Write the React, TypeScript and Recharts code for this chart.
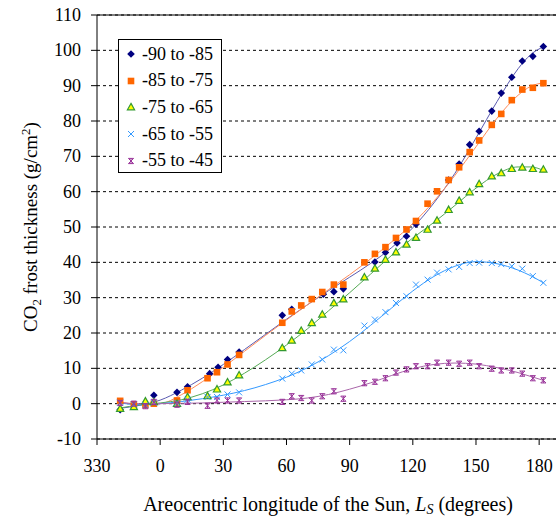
import React from "react";
import { ComposedChart, Line, Scatter, XAxis, YAxis, CartesianGrid, ReferenceLine } from "recharts";

// Measured points per latitude band (Ls in degrees, 330 shown as -30)
const lsNavy = [-19, -3, 8, 13, 23.5, 27.5, 32, 37.5, 58, 62.5, 77.5, 82.5, 87, 102, 107, 112.5, 117, 121.5, 137, 142, 147, 151.5, 157.5, 162, 167, 172, 177, 182];
const valNavy = [-1.7, 2.4, 3.2, 4.8, 8.5, 10.3, 12.5, 14.6, 25, 26.7, 31, 31.7, 32.5, 40.1, 42.8, 45.5, 47.4, 50.8, 63.3, 67.8, 73.3, 77.1, 82.8, 87.9, 92.4, 97, 98.3, 101.1];

const lsBands = [-19, -12.5, -7, -3, 8, 13, 22.5, 27, 32, 37.5, 58, 62.5, 67, 72, 77, 82.5, 87, 97, 102, 107, 112, 117, 121.5, 127, 131.5, 137, 142, 147, 151.5, 157.5, 162, 167, 172, 177, 182];
const valOrange = [0.8, -0.2, -0.4, 0, 0.9, 3.8, 7.2, 8.9, 11.1, 13.8, 22.9, 26.1, 27.8, 29.6, 31.6, 33.7, 33.7, 40, 42.4, 44.3, 46.9, 49.3, 51.7, 56.6, 60.1, 63.3, 66.9, 71.2, 74.5, 78.9, 82, 85.9, 88.9, 89.4, 90.7];
const valGreen = [-1.4, -0.9, 0.7, 0.5, 0, 1.9, 2.2, 4.1, 6.1, 8.1, 15.8, 17.9, 20.7, 22.9, 25.3, 28.5, 29.6, 35.8, 38.3, 40.8, 42.9, 45.1, 47, 49.3, 51.9, 54.9, 57.5, 59.9, 62.2, 64.4, 65.3, 66.5, 66.9, 66.5, 66.3];
const valBlue = [0.3, -0.2, -0.4, 0.3, 0.3, 1.1, 1.9, 1.9, 2.6, 3.2, 7.1, 8.5, 9.4, 11.1, 12.5, 15.3, 15.1, 22.1, 23.8, 25.9, 28.5, 30.4, 33.7, 35.1, 37.1, 38, 38.7, 39.8, 39.9, 39.8, 39.5, 38.9, 38.2, 36.1, 34.2];
const valPurple = [0.2, 0, -0.7, 0.5, -0.3, 0.5, -0.6, 0.9, 0.9, 0.9, 0.5, 2.1, 1.6, 0.9, 2.1, 3.5, 1.4, 5.8, 6.2, 7.2, 8.8, 9.7, 10.6, 10.6, 11.6, 11.6, 11.3, 11.6, 10.6, 9.9, 9.4, 9.4, 8.5, 7.2, 6.6];

// Trendlines
const lsTrend = [-19, -10, 0, 10, 20, 30, 40, 50, 60, 70, 80, 90, 100, 110, 120, 130, 140, 150, 160, 170, 176, 182];
const trendNavy = [-1.3, -0.5, 1.0, 3.8, 7.2, 11.1, 15.3, 19.6, 23.9, 28, 32, 35.8, 39.7, 44.2, 49.8, 56.8, 65.2, 75.2, 85.5, 94.8, 98.8, 101];
const trendOrange = [0.5, -0.2, 0, 2.5, 6.2, 10.3, 14.8, 19.3, 23.7, 28, 32.3, 36.5, 41, 45.8, 51, 57.3, 64.6, 72.7, 80.8, 87.3, 89.8, 90.8];
const trendGreen = [-1.2, -0.4, 0.2, 1.1, 2.8, 5.3, 8.6, 12.4, 16.6, 21.2, 26.3, 31.4, 36.7, 42, 46.9, 51.3, 56.1, 61, 65, 67, 67, 66];
const trendBlue = [0.2, -0.3, 0, 0.6, 1.4, 2.4, 3.7, 5.4, 7.5, 10.2, 13.6, 17.6, 22.2, 27.1, 31.9, 36, 38.9, 40.2, 39.6, 37.8, 36.2, 34.2];
const trendPurple = [0.3, 0, 0, 0.1, 0.2, 0.4, 0.6, 0.8, 1.1, 1.6, 2.6, 4.1, 5.9, 8, 9.9, 11.1, 11.5, 11.2, 10.2, 8.8, 7.7, 6.6];

const xTicks = [-30, 0, 30, 60, 90, 120, 150, 180];
const yTicks = [-10, 0, 10, 20, 30, 40, 50, 60, 70, 80, 90, 100, 110];

const FONT = '"Liberation Serif", "Times New Roman", serif';

const pts = (xs: number[], ys: number[]) => xs.map((x, i) => ({ x, y: ys[i] }));

function Diamond({ cx, cy, fill }: any) {
  const r = 3.8;
  return <path d={`M${cx},${cy - r}L${cx + r},${cy}L${cx},${cy + r}L${cx - r},${cy}Z`} fill={fill} />;
}
function Square({ cx, cy, fill }: any) {
  return <rect x={cx - 3.3} y={cy - 3.3} width={6.6} height={6.6} fill={fill} />;
}
function Triangle({ cx, cy }: any) {
  return <path d={`M${cx},${cy - 3.6}L${cx + 3.6},${cy + 2.8}L${cx - 3.6},${cy + 2.8}Z`} fill="#FFFF00" stroke="#339933" strokeWidth={1.2} />;
}
function Cross({ cx, cy, fill }: any) {
  const r = 3;
  return <path d={`M${cx - r},${cy - r}L${cx + r},${cy + r}M${cx + r},${cy - r}L${cx - r},${cy + r}`} stroke={fill} strokeWidth={1} fill="none" />;
}
function Star({ cx, cy, fill }: any) {
  const r = 2.6;
  return <path d={`M${cx - r},${cy - r}L${cx + r},${cy + r}M${cx + r},${cy - r}L${cx - r},${cy + r}M${cx},${cy - r}L${cx},${cy + r}M${cx - r},${cy - r}L${cx + r},${cy - r}M${cx - r},${cy + r}L${cx + r},${cy + r}`} stroke={fill} strokeWidth={1} fill="none" />;
}

const series = [
  { name: "-90 to -85", color: "#000080", line: "#5A5AB0", shape: Diamond, data: pts(lsNavy, valNavy), trend: trendNavy },
  { name: "-85 to -75", color: "#FF6600", line: "#FF8C5A", shape: Square, data: pts(lsBands, valOrange), trend: trendOrange },
  { name: "-75 to -65", color: "#339933", line: "#55AA55", shape: Triangle, data: pts(lsBands, valGreen), trend: trendGreen },
  { name: "-65 to -55", color: "#3399FF", line: "#3399FF", shape: Cross, data: pts(lsBands, valBlue), trend: trendBlue },
  { name: "-55 to -45", color: "#993399", line: "#AA66AA", shape: Star, data: pts(lsBands, valPurple), trend: trendPurple },
];

function LegendBox() {
  return (
    <div
      style={{
        position: "absolute",
        left: 118,
        top: 39,
        width: 104,
        height: 134,
        border: "1px solid #000",
        background: "#fff",
        boxSizing: "border-box",
        paddingTop: 1,
      }}
    >
      {series.map((s) => {
        const M = s.shape;
        return (
          <div key={s.name} style={{ display: "flex", alignItems: "center", height: 26.6, fontFamily: FONT, fontSize: 18, color: "#000", whiteSpace: "nowrap" }}>
            <svg width={23} height={12}>
              <M cx={12} cy={6} fill={s.color} />
            </svg>
            <span>{s.name}</span>
          </div>
        );
      })}
    </div>
  );
}

function XTick({ x, y, payload }: any) {
  const v = payload.value < 0 ? payload.value + 360 : payload.value;
  return (
    <text x={x} y={y} dy={13} textAnchor="middle" fontFamily={FONT} fontSize={18} fill="#000">
      {v}
    </text>
  );
}

function YTick({ x, y, payload }: any) {
  return (
    <text x={x} y={y} dy={6} textAnchor="end" fontFamily={FONT} fontSize={18} fill="#000">
      {payload.value}
    </text>
  );
}

export default function App() {
  return (
    <div style={{ position: "absolute", left: 0, top: 0, width: 556, height: 517, background: "#fff" }}>
      <ComposedChart width={556} height={517} margin={{ top: 15, right: 0, bottom: 48, left: 37 }}>
        <CartesianGrid horizontal vertical={false} stroke="#000" strokeDasharray="3 3" />
        <XAxis
          type="number"
          dataKey="x"
          domain={[-30, 188]}
          ticks={xTicks}
          allowDataOverflow
          height={30}
          tickSize={6}
          tickMargin={14}
          stroke="#000"
          tick={<XTick />}
          label={{
            content: () => (
              <text x={328} y={511} textAnchor="middle" fontFamily={FONT} fontSize={20} fill="#000">
                Areocentric longitude of the Sun,{" "}
                <tspan fontStyle="italic">L</tspan>
                <tspan fontStyle="italic" fontSize={14} dy={3}>S</tspan>
                <tspan dy={-3}> (degrees)</tspan>
              </text>
            ),
          }}
        />
        <YAxis
          type="number"
          dataKey="y"
          domain={[-10, 110]}
          ticks={yTicks}
          width={60}
          tickSize={6}
          tickMargin={10}
          stroke="#000"
          tick={<YTick />}
          label={{
            content: () => (
              <text x={37} y={227} transform="rotate(-90, 37, 227)" textAnchor="middle" fontFamily={FONT} fontSize={19} fill="#000">
                CO<tspan fontSize={13} dy={4}>2</tspan>
                <tspan dy={-4}> frost thickness (g/cm</tspan>
                <tspan fontSize={13} dy={-7}>2</tspan>
                <tspan dy={7}>)</tspan>
              </text>
            ),
          }}
        />
        <ReferenceLine y={110} stroke="#000" strokeWidth={1} />
        {series.map((s) => (
          <Line
            key={"t" + s.name}
            data={pts(lsTrend, s.trend)}
            dataKey="y"
            type="monotone"
            stroke={s.line}
            strokeWidth={1}
            dot={false}
            activeDot={false}
            isAnimationActive={false}
            legendType="none"
          />
        ))}
        {series.map((s) => (
          <Scatter
            key={s.name}
            name={s.name}
            data={s.data}
            fill={s.color}
            shape={(p: any) => <s.shape cx={p.cx} cy={p.cy} fill={s.color} />}
            isAnimationActive={false}
          />
        ))}
      </ComposedChart>
      <LegendBox />
    </div>
  );
}
